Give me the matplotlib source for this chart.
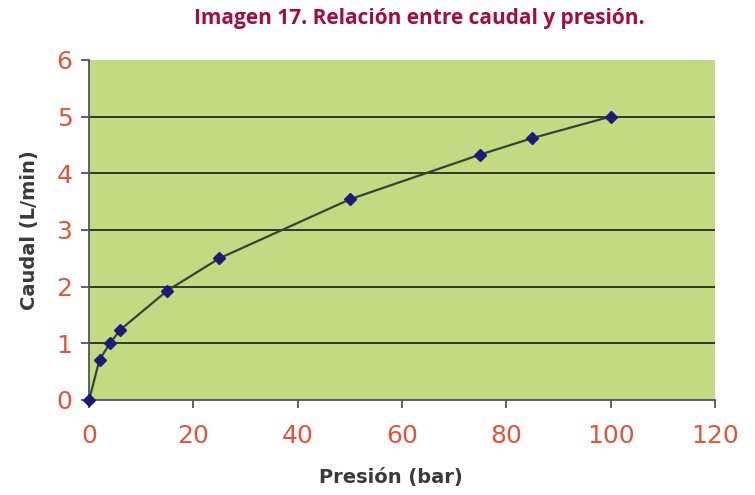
import matplotlib
matplotlib.use("Agg")
import matplotlib.pyplot as plt

presion = [0, 2, 4, 6, 15, 25, 50, 75, 85, 100]
caudal = [0, 0.71, 1.0, 1.24, 1.93, 2.5, 3.54, 4.33, 4.62, 5.0]
xticks = [0, 20, 40, 60, 80, 100, 120]
yticks = [0, 1, 2, 3, 4, 5, 6]

title = "Imagen 17. Relación entre caudal y presión."
xlabel = "Presión (bar)"
ylabel = "Caudal (L/min)"

plt.rcParams["font.family"] = ["DejaVu Sans"]

fig = plt.figure(figsize=(7.55, 4.95), dpi=100)
ax = fig.add_axes([0.118, 0.192, 0.829, 0.687])
ax.set_facecolor("#c4da82")

for y in yticks[1:-1]:
    ax.axhline(y, color="#2a2a2a", lw=1.3, zorder=1)

ax.plot(presion, caudal, color="#34443a", lw=1.6, zorder=2)
ax.plot(presion, caudal, linestyle="none", marker="D", markersize=6.5,
        color="#1c1c78", zorder=3, clip_on=False)

ax.set_xlim(0, 120)
ax.set_ylim(0, 6)
ax.set_xticks(xticks)
ax.set_yticks(yticks)
ax.tick_params(axis="both", direction="out", length=6, width=1.3,
               colors="#555555", labelcolor="#e2553b", labelsize=18)
ax.tick_params(axis="x", pad=11)
ax.tick_params(axis="y", pad=6)

for s in ["top", "right"]:
    ax.spines[s].set_visible(False)
for s in ["left", "bottom"]:
    ax.spines[s].set_color("#555555")
    ax.spines[s].set_linewidth(1.3)

ax.set_xlabel(xlabel, fontsize=14, fontweight="bold", color="#3a3a3a")
ax.set_ylabel(ylabel, fontsize=14, fontweight="bold", color="#3a3a3a")
ax.xaxis.set_label_coords(0.482, -0.2)
ax.yaxis.set_label_coords(-0.08, 0.5)

fig.text(0.555, 0.962, title, ha="center", va="center", fontsize=15,
         fontweight="bold", color="#a10f40", family="Open Sans")

fig.savefig("out.png", dpi=100)
